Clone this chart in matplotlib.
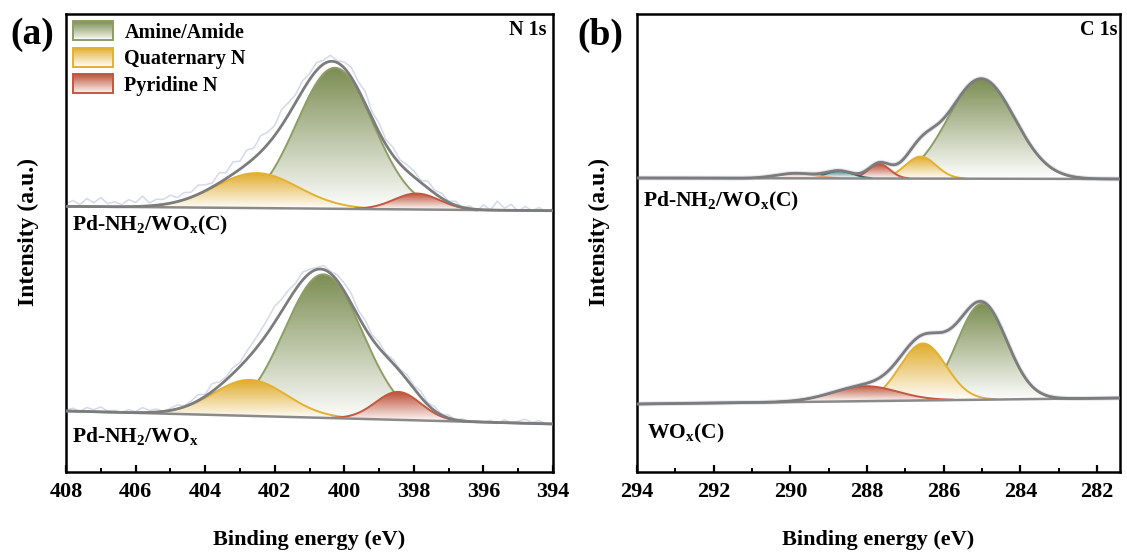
import numpy as np
import matplotlib
matplotlib.use('Agg')
import matplotlib.pyplot as plt
from matplotlib.colors import LinearSegmentedColormap, to_rgb
from matplotlib.patches import PathPatch, Rectangle, Patch
from matplotlib.path import Path
from matplotlib.legend_handler import HandlerBase
from matplotlib.ticker import MultipleLocator

plt.rcParams['font.family'] = ['Liberation Serif', 'DejaVu Serif']
plt.rcParams['font.weight'] = 'bold'
plt.rcParams['mathtext.fontset'] = 'custom'
plt.rcParams['mathtext.rm'] = 'Liberation Serif:bold'
plt.rcParams['mathtext.it'] = 'Liberation Serif:bold'
plt.rcParams['mathtext.bf'] = 'Liberation Serif:bold'

# ---- N 1s fits (panel a) ----
n1_names = ['Amine/Amide', 'Quaternary N', 'Pyridine N']
n1_top_c = [400.27, 402.52, 397.92]
n1_top_h = [141, 35, 16]
n1_top_s = [1.10, 1.20, 0.65]
n1_top_base = [265.6, 261.3]     # baseline at 408 and 394 eV
n1_bot_c = [400.60, 402.71, 398.45]
n1_bot_h = [143.5, 36, 28]
n1_bot_s = [1.12, 1.05, 0.65]
n1_bot_base = [61, 48]

# raw N 1s data, read as offsets from the fit envelope (408 -> 394 eV, 0.2 eV step)
raw_e = np.round(np.arange(408.0, 393.9, -0.2), 1)
raw_top_res = [3, 6, 2, 8, 4, 9, 3, 5, 2, 7,
               4, 10, 3, 6, 5, 8, 4, 7, 5, 9,
               6, 4, 10, 6, 12, 8, 14, 10, 16, 12,
               10, 16, 12, 8, 10, 6, 8, 4, 6, 2,
               6, 10, 8, 12, 6, 9, 5, 8, 4, 6,
               6, 2, 7, 3, 5, 1, 4, -1, 3, -2,
               5, 0, 9, 2, 6, -1, 4, 0, 3, -1,
               2]
raw_bot_res = [1, 3, 0, 4, 2, 5, 1, 2, 0, 3,
               1, 5, 2, 3, 0, 2, 4, 1, 3, 6,
               2, 8, 4, 3, 6, 4, 8, 10, 12, 14,
               16, 12, 10, 6, 8, 4, 2, 4, 2, 6,
               8, 10, 6, 8, 4, 6, 2, 4, 2, 5,
               3, 6, 2, 4, 1, 3, 0, 2, -1, 1,
               0, 2, -1, 3, 0, 2, 4, 1, 3, 0,
               1]

# ---- C 1s fits (panel b) ----
c1_top_c = [285.02, 286.60, 287.68, 288.73, 289.87]
c1_top_h = [100, 22, 14.5, 7.5, 5]
c1_top_s = [0.87, 0.40, 0.28, 0.35, 0.50]
c1_top_base = [294, 293]        # baseline at 294 and 281.4 eV
c1_bot_c = [285.00, 286.54, 288.05]
c1_bot_h = [96, 57, 15]
c1_bot_s = [0.65, 0.60, 0.85]
c1_bot_base = [68, 74]

fills = ['#7b8d52', '#e0ab28', '#bd5138', '#2b7676', '#e9a27d']
edges = ['#8d9d66', '#e2b133', '#c4573f', '#2b6e6e', '#e8a27a']
env_col = '#7c7c7c'
base_col = '#8a8a8a'
raw_col = '#d4d9ea'


def gauss(e, c, h, s):
    return h * np.exp(-(e - c) ** 2 / (2 * s ** 2))


def grad_fill(ax, x, lo, hi, color, edge, z):
    verts = np.column_stack([np.r_[x, x[::-1]], np.r_[hi, lo[::-1]]])
    clip = PathPatch(Path(verts), transform=ax.transData, facecolor='none', edgecolor='none')
    cmap = LinearSegmentedColormap.from_list('g', ['white', color])
    grad = np.linspace(0, 1, 256).reshape(-1, 1)
    im = ax.imshow(grad, cmap=cmap, aspect='auto', origin='lower',
                   extent=[x.min(), x.max(), lo.min(), hi.max()], zorder=z)
    im.set_clip_path(clip)
    ax.plot(x, hi, color=edge, lw=1.4, zorder=z + 0.5)


def spectrum(ax, e, base_ends, cs, hs, ss, res=None):
    base = base_ends[0] + (base_ends[1] - base_ends[0]) * (e[0] - e) / (e[0] - e[-1])
    total = base.copy()
    for i, (c, h, s) in enumerate(zip(cs, hs, ss)):
        p = gauss(e, c, h, s)
        total += p
        m = p > 0.4
        grad_fill(ax, e[m], base[m], base[m] + p[m], fills[i], edges[i], 2 + i)
    if res is not None:
        raw = np.interp(raw_e[::-1], e[::-1], total[::-1])[::-1] + np.array(res)
        ax.plot(raw_e, raw, color=raw_col, lw=1.1, zorder=1.5)
    else:
        ax.plot(e, total, color='#e3e6f0', lw=3.5, zorder=1.5)
    ax.plot(e, base, color=base_col, lw=1.8, zorder=9)
    ax.plot(e, total, color=env_col, lw=2.0, zorder=10)


class GradientHandler(HandlerBase):
    def __init__(self, color, edge):
        super().__init__()
        self.color = color
        self.edge = edge

    def create_artists(self, legend, orig_handle, xdescent, ydescent, width, height, fontsize, trans):
        x0, y0 = -xdescent, -ydescent
        top = np.array(to_rgb(self.color))
        n = 20
        arts = []
        for i in range(n):
            f = (i + 0.5) / n
            col = 1 - f * (1 - top)
            arts.append(Rectangle((x0, y0 + height * i / n), width, height / n,
                                  facecolor=col, edgecolor='none', transform=trans))
        arts.append(Rectangle((x0, y0), width, height, facecolor='none',
                              edgecolor=self.edge, lw=1.4, transform=trans))
        return arts


fig = plt.figure(figsize=(11.27, 5.56), dpi=100)
axa = fig.add_axes([66 / 1127, 1 - 472 / 556, 487 / 1127, 458 / 556])
axb = fig.add_axes([637 / 1127, 1 - 472 / 556, 483 / 1127, 458 / 556])

ea = np.linspace(408, 394, 1400)
spectrum(axa, ea, n1_top_base, n1_top_c, n1_top_h, n1_top_s, raw_top_res)
spectrum(axa, ea, n1_bot_base, n1_bot_c, n1_bot_h, n1_bot_s, raw_bot_res)

eb = np.linspace(294, 281.4, 1400)
spectrum(axb, eb, c1_top_base, c1_top_c, c1_top_h, c1_top_s)
spectrum(axb, eb, c1_bot_base, c1_bot_c, c1_bot_h, c1_bot_s)

for ax, lim in [(axa, (408, 394)), (axb, (294, 281.4))]:
    ax.set_xlim(*lim)
    ax.set_ylim(0, 458)
    ax.set_yticks([])
    ax.xaxis.set_major_locator(MultipleLocator(2))
    ax.xaxis.set_minor_locator(MultipleLocator(1))
    ax.tick_params(axis='x', which='major', direction='in', length=5, width=1.6,
                   labelsize=16, pad=7)
    ax.tick_params(axis='x', which='minor', direction='in', length=3, width=1.4)
    for sp in ax.spines.values():
        sp.set_linewidth(1.8)
    ax.set_xlabel('Binding energy (eV)', fontsize=16, fontweight='bold', labelpad=20)
    ax.set_ylabel('Intensity (a.u.)', fontsize=17, fontweight='bold')
axa.yaxis.set_label_coords(-0.055, 0.525)
axb.yaxis.set_label_coords(-0.056, 0.525)

axa.text(0.986, 0.965, 'N 1s', transform=axa.transAxes, ha='right', va='center', fontsize=14.5)
axb.text(0.994, 0.965, 'C 1s', transform=axb.transAxes, ha='right', va='center', fontsize=14.5)

axa.text(0.012, 0.539, r'Pd-NH$_2$/WO$_x$(C)', transform=axa.transAxes, ha='left', va='center', fontsize=15.5)
axa.text(0.012, 0.079, r'Pd-NH$_2$/WO$_x$', transform=axa.transAxes, ha='left', va='center', fontsize=15.5)
axb.text(0.012, 0.59, r'Pd-NH$_2$/WO$_x$(C)', transform=axb.transAxes, ha='left', va='center', fontsize=15.5)
axb.text(0.02, 0.085, r'WO$_x$(C)', transform=axb.transAxes, ha='left', va='center', fontsize=15.5)

handles = [Patch(label=n) for n in n1_names]
hmap = {h: GradientHandler(fills[i], edges[i]) for i, h in enumerate(handles)}
axa.legend(handles=handles, handler_map=hmap, loc='upper left', frameon=False,
           prop={'size': 14.5, 'weight': 'bold'}, handlelength=2.0, handleheight=1.1,
           labelspacing=0.25, handletextpad=0.55, borderaxespad=0.15, borderpad=0.2)

fig.text(32 / 1127, 1 - 35 / 556, '(a)', fontsize=27, ha='center', va='center', fontweight='bold')
fig.text(600 / 1127, 1 - 35 / 556, '(b)', fontsize=27, ha='center', va='center', fontweight='bold')

fig.savefig('out.png', dpi=100)
